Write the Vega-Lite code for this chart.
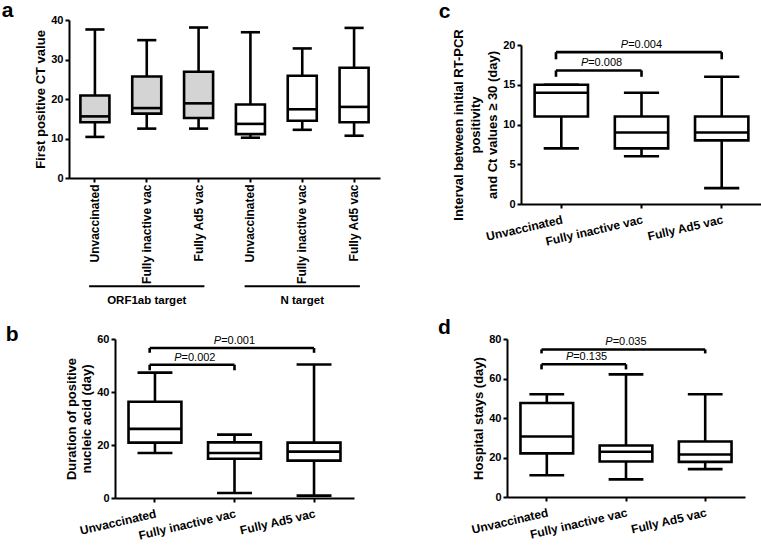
{
  "$schema": "https://vega.github.io/schema/vega-lite/v6.json",
  "padding": {"left": 1, "top": 0, "right": 0, "bottom": 0},
  "background": "white",
  "config": {
    "view": {"stroke": null},
    "font": "Liberation Sans",
    "axis": {"domainColor": "#000", "domainWidth": 2, "tickColor": "#000", "tickWidth": 2, "tickSize": 4, "labelColor": "#000", "labelFont": "Liberation Sans", "labelFontWeight": "bold", "labelFontSize": 11, "labelPadding": 2, "titleColor": "#000", "titleFont": "Liberation Sans", "titleFontWeight": "bold", "titleFontSize": 13, "titlePadding": 3, "grid": false, "labelOverlap": false},
    "axisX": {"labelFontSize": 12},
    "title": {"fontSize": 21, "fontWeight": "bold", "anchor": "start", "frame": "bounds", "baseline": "alphabetic", "color": "#000", "font": "Liberation Sans"},
    "rule": {"strokeWidth": 2.6, "color": "#000"},
    "bar": {"stroke": "#000", "strokeWidth": 2.6},
    "text": {"font": "Liberation Sans", "color": "#000"}
  },
  "datasets": {
    "boxA": [
      {"key": "ORF1ab|Unvaccinated", "target": "ORF1ab target", "min": 10.4, "q1": 14.1, "median": 15.6, "q3": 20.9, "max": 37.6},
      {"key": "ORF1ab|Fully inactive vac", "target": "ORF1ab target", "min": 12.5, "q1": 16.3, "median": 17.7, "q3": 25.7, "max": 34.9},
      {"key": "ORF1ab|Fully Ad5 vac", "target": "ORF1ab target", "min": 12.5, "q1": 15.2, "median": 18.9, "q3": 26.9, "max": 38.1},
      {"key": "N|Unvaccinated", "target": "N target", "min": 10.2, "q1": 11.1, "median": 13.7, "q3": 18.6, "max": 36.9},
      {"key": "N|Fully inactive vac", "target": "N target", "min": 12.2, "q1": 14.5, "median": 17.4, "q3": 25.9, "max": 32.8},
      {"key": "N|Fully Ad5 vac", "target": "N target", "min": 10.7, "q1": 14.1, "median": 18.0, "q3": 27.9, "max": 38.0}
    ],
    "groupsA": [
      {"target": "ORF1ab target", "start": "ORF1ab|Unvaccinated", "mid": "ORF1ab|Fully inactive vac", "end": "ORF1ab|Fully Ad5 vac"},
      {"target": "N target", "start": "N|Unvaccinated", "mid": "N|Fully inactive vac", "end": "N|Fully Ad5 vac"}
    ],
    "boxB": [
      {"group": "Unvaccinated", "min": 17.0, "q1": 20.9, "median": 26.1, "q3": 36.3, "max": 47.3},
      {"group": "Fully inactive vac", "min": 1.9, "q1": 14.8, "median": 17.0, "q3": 21.0, "max": 23.9},
      {"group": "Fully Ad5 vac", "min": 0.9, "q1": 14.1, "median": 17.5, "q3": 20.9, "max": 50.4}
    ],
    "brB": [
      {"span": "wide", "from": "Unvaccinated", "mid": "Fully inactive vac", "to": "Fully Ad5 vac", "top": 56.6, "leg": 54.8, "p": "=0.001"},
      {"span": "narrow", "from": "Unvaccinated", "mid": "Fully inactive vac", "to": "Fully inactive vac", "top": 50.3, "leg": 48.2, "p": "=0.002"}
    ],
    "boxC": [
      {"group": "Unvaccinated", "min": 7, "q1": 11, "median": 14, "q3": 15, "max": 15},
      {"group": "Fully inactive vac", "min": 6, "q1": 7, "median": 9, "q3": 11, "max": 14},
      {"group": "Fully Ad5 vac", "min": 2, "q1": 8, "median": 9, "q3": 11, "max": 16}
    ],
    "brC": [
      {"span": "wide", "from": "Unvaccinated", "mid": "Fully inactive vac", "to": "Fully Ad5 vac", "top": 19.1, "leg": 18.2, "p": "=0.004"},
      {"span": "narrow", "from": "Unvaccinated", "mid": "Fully inactive vac", "to": "Fully inactive vac", "top": 16.8, "leg": 16.0, "p": "=0.008"}
    ],
    "boxD": [
      {"group": "Unvaccinated", "min": 11.0, "q1": 22.1, "median": 30.6, "q3": 47.6, "max": 52.0},
      {"group": "Fully inactive vac", "min": 8.9, "q1": 18.0, "median": 22.9, "q3": 26.1, "max": 62.1},
      {"group": "Fully Ad5 vac", "min": 14.1, "q1": 17.8, "median": 21.5, "q3": 28.1, "max": 52.0}
    ],
    "brD": [
      {"span": "wide", "from": "Unvaccinated", "mid": "Fully inactive vac", "to": "Fully Ad5 vac", "top": 74.7, "leg": 72.7, "p": "=0.035"},
      {"span": "narrow", "from": "Unvaccinated", "mid": "Fully inactive vac", "to": "Fully inactive vac", "top": 67.2, "leg": 64.6, "p": "=0.135"}
    ]
  },
  "spacing": 319,
  "bounds": "flush",
  "vconcat": [
    {
      "spacing": 141,
      "bounds": "flush",
      "hconcat": [
        {
          "title": {"text": "a", "offset": -7, "dx": -33},
          "width": 311, "height": 158,
          "layer": [
            {"data": {"name": "boxA"}, "mark": "rule",
             "encoding": {
               "x": {"field": "key", "type": "nominal", "title": null, "scale": {"domain": ["ORF1ab|Unvaccinated", "ORF1ab|Fully inactive vac", "ORF1ab|Fully Ad5 vac", "N|Unvaccinated", "N|Fully inactive vac", "N|Fully Ad5 vac"], "paddingInner": 0.44, "paddingOuter": 0.22}, "axis": {"title": null, "labelAngle": -90, "labelFontSize": 12, "labelExpr": "split(datum.label, '|')[1]"}},
               "y": {"field": "min", "type": "quantitative", "scale": {"domain": [0, 40], "nice": false}, "axis": {"title": "First positive CT value", "values": [0, 10, 20, 30, 40]}},
               "y2": {"field": "q1"}}},
            {"data": {"name": "boxA"}, "mark": "rule",
             "encoding": {"x": {"field": "key", "type": "nominal", "title": null}, "y": {"field": "q3", "type": "quantitative", "scale": {"domain": [0, 40], "nice": false}, "axis": {"title": "First positive CT value", "values": [0, 10, 20, 30, 40]}}, "y2": {"field": "max"}}},
            {"data": {"name": "boxA"}, "mark": "rule",
             "encoding": {"x": {"field": "key", "type": "nominal", "bandPosition": 0.17, "title": null}, "x2": {"field": "key", "bandPosition": 0.83}, "y": {"field": "min", "type": "quantitative", "scale": {"domain": [0, 40], "nice": false}, "axis": {"title": "First positive CT value", "values": [0, 10, 20, 30, 40]}}}},
            {"data": {"name": "boxA"}, "mark": "rule",
             "encoding": {"x": {"field": "key", "type": "nominal", "bandPosition": 0.17, "title": null}, "x2": {"field": "key", "bandPosition": 0.83}, "y": {"field": "max", "type": "quantitative", "scale": {"domain": [0, 40], "nice": false}, "axis": {"title": "First positive CT value", "values": [0, 10, 20, 30, 40]}}}},
            {"data": {"name": "boxA"}, "mark": "bar",
             "encoding": {"x": {"field": "key", "type": "nominal", "title": null}, "y": {"field": "q1", "type": "quantitative", "scale": {"domain": [0, 40], "nice": false}, "axis": {"title": "First positive CT value", "values": [0, 10, 20, 30, 40]}}, "y2": {"field": "q3"},
               "fill": {"field": "target", "type": "nominal", "scale": {"domain": ["ORF1ab target", "N target"], "range": ["#d4d4d4", "#ffffff"]}, "legend": null}}},
            {"data": {"name": "boxA"}, "mark": "rule",
             "encoding": {"x": {"field": "key", "type": "nominal", "bandPosition": 0, "title": null}, "x2": {"field": "key", "bandPosition": 1}, "y": {"field": "median", "type": "quantitative", "scale": {"domain": [0, 40], "nice": false}, "axis": {"title": "First positive CT value", "values": [0, 10, 20, 30, 40]}}}},
            {"data": {"name": "groupsA"}, "mark": {"type": "rule", "strokeWidth": 2},
             "encoding": {"x": {"field": "start", "type": "nominal", "bandPosition": 0.3, "title": null}, "x2": {"field": "end", "bandPosition": 0.7}, "y": {"datum": -27.4, "type": "quantitative", "scale": {"domain": [0, 40], "nice": false}, "axis": {"title": "First positive CT value", "values": [0, 10, 20, 30, 40]}}}},
            {"data": {"name": "groupsA"}, "mark": {"type": "text", "fontWeight": "bold", "fontSize": 11.5, "baseline": "alphabetic", "align": "center"},
             "encoding": {"x": {"field": "mid", "type": "nominal", "title": null}, "y": {"datum": -32, "type": "quantitative", "scale": {"domain": [0, 40], "nice": false}, "axis": {"title": "First positive CT value", "values": [0, 10, 20, 30, 40]}}, "text": {"field": "target"}}}
          ]
        },
        {
          "spacing": 24,
          "bounds": "flush",
          "vconcat": [
            {"width": 1, "height": 1, "data": {"values": []}, "mark": "point"},
            {
              "title": {"text": "c", "offset": 6.3, "dx": -14},
              "width": 241, "height": 159,
              "layer": [
                {"data": {"name": "boxC"}, "mark": "rule",
                 "encoding": {
                   "x": {"field": "group", "type": "nominal", "title": null, "scale": {"domain": ["Unvaccinated", "Fully inactive vac", "Fully Ad5 vac"], "paddingInner": 0.335, "paddingOuter": 0.17}, "axis": {"title": null, "labelAngle": -13, "labelPadding": 6}},
                   "y": {"field": "min", "type": "quantitative", "scale": {"domain": [0, 20], "nice": false}, "axis": {"title": ["Interval between initial RT-PCR", "positivity", "and Ct values \u2265 30 (day)"], "titleLineHeight": 17, "values": [0, 5, 10, 15, 20]}},
                   "y2": {"field": "q1"}}},
                {"data": {"name": "boxC"}, "mark": "rule",
                 "encoding": {"x": {"field": "group", "type": "nominal", "title": null}, "y": {"field": "q3", "type": "quantitative", "scale": {"domain": [0, 20], "nice": false}, "axis": {"title": ["Interval between initial RT-PCR", "positivity", "and Ct values \u2265 30 (day)"], "titleLineHeight": 17, "values": [0, 5, 10, 15, 20]}}, "y2": {"field": "max"}}},
                {"data": {"name": "boxC"}, "mark": "rule",
                 "encoding": {"x": {"field": "group", "type": "nominal", "bandPosition": 0.17, "title": null}, "x2": {"field": "group", "bandPosition": 0.83}, "y": {"field": "min", "type": "quantitative", "scale": {"domain": [0, 20], "nice": false}, "axis": {"title": ["Interval between initial RT-PCR", "positivity", "and Ct values \u2265 30 (day)"], "titleLineHeight": 17, "values": [0, 5, 10, 15, 20]}}}},
                {"data": {"name": "boxC"}, "mark": "rule",
                 "encoding": {"x": {"field": "group", "type": "nominal", "bandPosition": 0.17, "title": null}, "x2": {"field": "group", "bandPosition": 0.83}, "y": {"field": "max", "type": "quantitative", "scale": {"domain": [0, 20], "nice": false}, "axis": {"title": ["Interval between initial RT-PCR", "positivity", "and Ct values \u2265 30 (day)"], "titleLineHeight": 17, "values": [0, 5, 10, 15, 20]}}}},
                {"data": {"name": "boxC"}, "mark": {"type": "bar", "fill": "#ffffff"},
                 "encoding": {"x": {"field": "group", "type": "nominal", "title": null}, "y": {"field": "q1", "type": "quantitative", "scale": {"domain": [0, 20], "nice": false}, "axis": {"title": ["Interval between initial RT-PCR", "positivity", "and Ct values \u2265 30 (day)"], "titleLineHeight": 17, "values": [0, 5, 10, 15, 20]}}, "y2": {"field": "q3"}}},
                {"data": {"name": "boxC"}, "mark": "rule",
                 "encoding": {"x": {"field": "group", "type": "nominal", "bandPosition": 0, "title": null}, "x2": {"field": "group", "bandPosition": 1}, "y": {"field": "median", "type": "quantitative", "scale": {"domain": [0, 20], "nice": false}, "axis": {"title": ["Interval between initial RT-PCR", "positivity", "and Ct values \u2265 30 (day)"], "titleLineHeight": 17, "values": [0, 5, 10, 15, 20]}}}},
                {"data": {"name": "brC"}, "mark": "rule",
                 "encoding": {"x": {"field": "from", "type": "nominal", "bandPosition": 0.4, "title": null}, "x2": {"field": "to", "bandPosition": 0.5}, "y": {"field": "top", "type": "quantitative", "scale": {"domain": [0, 20], "nice": false}, "axis": {"title": ["Interval between initial RT-PCR", "positivity", "and Ct values \u2265 30 (day)"], "titleLineHeight": 17, "values": [0, 5, 10, 15, 20]}}}},
                {"data": {"name": "brC"}, "mark": "rule",
                 "encoding": {"x": {"field": "from", "type": "nominal", "bandPosition": 0.4, "title": null}, "y": {"field": "leg", "type": "quantitative", "scale": {"domain": [0, 20], "nice": false}, "axis": {"title": ["Interval between initial RT-PCR", "positivity", "and Ct values \u2265 30 (day)"], "titleLineHeight": 17, "values": [0, 5, 10, 15, 20]}}, "y2": {"field": "top"}}},
                {"data": {"name": "brC"}, "mark": "rule",
                 "encoding": {"x": {"field": "to", "type": "nominal", "bandPosition": 0.5, "title": null}, "y": {"field": "leg", "type": "quantitative", "scale": {"domain": [0, 20], "nice": false}, "axis": {"title": ["Interval between initial RT-PCR", "positivity", "and Ct values \u2265 30 (day)"], "titleLineHeight": 17, "values": [0, 5, 10, 15, 20]}}, "y2": {"field": "top"}}},
                {"data": {"name": "brC"}, "transform": [{"filter": "datum.span == 'wide'"}], "mark": {"type": "text", "fontSize": 11, "align": "center", "baseline": "alphabetic", "dy": -4, "dx": 3.6},
                 "encoding": {"x": {"field": "mid", "type": "nominal", "title": null}, "y": {"field": "top", "type": "quantitative", "scale": {"domain": [0, 20], "nice": false}, "axis": {"title": ["Interval between initial RT-PCR", "positivity", "and Ct values \u2265 30 (day)"], "titleLineHeight": 17, "values": [0, 5, 10, 15, 20]}}, "text": {"field": "p"}}},
                {"data": {"name": "brC"}, "transform": [{"filter": "datum.span == 'wide'"}], "mark": {"type": "text", "fontSize": 11, "fontStyle": "italic", "align": "right", "baseline": "alphabetic", "dy": -4, "dx": -13.3},
                 "encoding": {"x": {"field": "mid", "type": "nominal", "title": null}, "y": {"field": "top", "type": "quantitative", "scale": {"domain": [0, 20], "nice": false}, "axis": {"title": ["Interval between initial RT-PCR", "positivity", "and Ct values \u2265 30 (day)"], "titleLineHeight": 17, "values": [0, 5, 10, 15, 20]}}, "text": {"value": "P"}}},
                {"data": {"name": "brC"}, "transform": [{"filter": "datum.span == 'narrow'"}], "mark": {"type": "text", "fontSize": 11, "align": "center", "baseline": "alphabetic", "dy": -4, "dx": 3.6},
                 "encoding": {"x": {"field": "from", "type": "nominal", "bandPosition": 1.255, "title": null}, "y": {"field": "top", "type": "quantitative", "scale": {"domain": [0, 20], "nice": false}, "axis": {"title": ["Interval between initial RT-PCR", "positivity", "and Ct values \u2265 30 (day)"], "titleLineHeight": 17, "values": [0, 5, 10, 15, 20]}}, "text": {"field": "p"}}},
                {"data": {"name": "brC"}, "transform": [{"filter": "datum.span == 'narrow'"}], "mark": {"type": "text", "fontSize": 11, "fontStyle": "italic", "align": "right", "baseline": "alphabetic", "dy": -4, "dx": -13.3},
                 "encoding": {"x": {"field": "from", "type": "nominal", "bandPosition": 1.255, "title": null}, "y": {"field": "top", "type": "quantitative", "scale": {"domain": [0, 20], "nice": false}, "axis": {"title": ["Interval between initial RT-PCR", "positivity", "and Ct values \u2265 30 (day)"], "titleLineHeight": 17, "values": [0, 5, 10, 15, 20]}}, "text": {"value": "P"}}}
              ]
            }
          ]
        }
      ]
    },
    {
      "spacing": 438,
      "bounds": "flush",
      "hconcat": [
        {
          "spacing": 45,
          "bounds": "flush",
          "hconcat": [
            {"width": 1, "height": 1, "data": {"values": []}, "mark": "point"},
            {
              "title": {"text": "b", "offset": -11.5, "dx": -60},
              "width": 239, "height": 159,
              "layer": [
                {"data": {"name": "boxB"}, "mark": "rule",
                 "encoding": {
                   "x": {"field": "group", "type": "nominal", "title": null, "scale": {"domain": ["Unvaccinated", "Fully inactive vac", "Fully Ad5 vac"], "paddingInner": 0.335, "paddingOuter": 0.17}, "axis": {"title": null, "labelAngle": -13, "labelPadding": 6}},
                   "y": {"field": "min", "type": "quantitative", "scale": {"domain": [0, 60], "nice": false}, "axis": {"title": ["Duration of positive", "nucleic acid (day)"], "titleLineHeight": 15, "values": [0, 20, 40, 60]}},
                   "y2": {"field": "q1"}}},
                {"data": {"name": "boxB"}, "mark": "rule",
                 "encoding": {"x": {"field": "group", "type": "nominal", "title": null}, "y": {"field": "q3", "type": "quantitative", "scale": {"domain": [0, 60], "nice": false}, "axis": {"title": ["Duration of positive", "nucleic acid (day)"], "titleLineHeight": 15, "values": [0, 20, 40, 60]}}, "y2": {"field": "max"}}},
                {"data": {"name": "boxB"}, "mark": "rule",
                 "encoding": {"x": {"field": "group", "type": "nominal", "bandPosition": 0.17, "title": null}, "x2": {"field": "group", "bandPosition": 0.83}, "y": {"field": "min", "type": "quantitative", "scale": {"domain": [0, 60], "nice": false}, "axis": {"title": ["Duration of positive", "nucleic acid (day)"], "titleLineHeight": 15, "values": [0, 20, 40, 60]}}}},
                {"data": {"name": "boxB"}, "mark": "rule",
                 "encoding": {"x": {"field": "group", "type": "nominal", "bandPosition": 0.17, "title": null}, "x2": {"field": "group", "bandPosition": 0.83}, "y": {"field": "max", "type": "quantitative", "scale": {"domain": [0, 60], "nice": false}, "axis": {"title": ["Duration of positive", "nucleic acid (day)"], "titleLineHeight": 15, "values": [0, 20, 40, 60]}}}},
                {"data": {"name": "boxB"}, "mark": {"type": "bar", "fill": "#ffffff"},
                 "encoding": {"x": {"field": "group", "type": "nominal", "title": null}, "y": {"field": "q1", "type": "quantitative", "scale": {"domain": [0, 60], "nice": false}, "axis": {"title": ["Duration of positive", "nucleic acid (day)"], "titleLineHeight": 15, "values": [0, 20, 40, 60]}}, "y2": {"field": "q3"}}},
                {"data": {"name": "boxB"}, "mark": "rule",
                 "encoding": {"x": {"field": "group", "type": "nominal", "bandPosition": 0, "title": null}, "x2": {"field": "group", "bandPosition": 1}, "y": {"field": "median", "type": "quantitative", "scale": {"domain": [0, 60], "nice": false}, "axis": {"title": ["Duration of positive", "nucleic acid (day)"], "titleLineHeight": 15, "values": [0, 20, 40, 60]}}}},
                {"data": {"name": "brB"}, "mark": "rule",
                 "encoding": {"x": {"field": "from", "type": "nominal", "bandPosition": 0.4, "title": null}, "x2": {"field": "to", "bandPosition": 0.5}, "y": {"field": "top", "type": "quantitative", "scale": {"domain": [0, 60], "nice": false}, "axis": {"title": ["Duration of positive", "nucleic acid (day)"], "titleLineHeight": 15, "values": [0, 20, 40, 60]}}}},
                {"data": {"name": "brB"}, "mark": "rule",
                 "encoding": {"x": {"field": "from", "type": "nominal", "bandPosition": 0.4, "title": null}, "y": {"field": "leg", "type": "quantitative", "scale": {"domain": [0, 60], "nice": false}, "axis": {"title": ["Duration of positive", "nucleic acid (day)"], "titleLineHeight": 15, "values": [0, 20, 40, 60]}}, "y2": {"field": "top"}}},
                {"data": {"name": "brB"}, "mark": "rule",
                 "encoding": {"x": {"field": "to", "type": "nominal", "bandPosition": 0.5, "title": null}, "y": {"field": "leg", "type": "quantitative", "scale": {"domain": [0, 60], "nice": false}, "axis": {"title": ["Duration of positive", "nucleic acid (day)"], "titleLineHeight": 15, "values": [0, 20, 40, 60]}}, "y2": {"field": "top"}}},
                {"data": {"name": "brB"}, "transform": [{"filter": "datum.span == 'wide'"}], "mark": {"type": "text", "fontSize": 11, "align": "center", "baseline": "alphabetic", "dy": -4, "dx": 3.6},
                 "encoding": {"x": {"field": "mid", "type": "nominal", "title": null}, "y": {"field": "top", "type": "quantitative", "scale": {"domain": [0, 60], "nice": false}, "axis": {"title": ["Duration of positive", "nucleic acid (day)"], "titleLineHeight": 15, "values": [0, 20, 40, 60]}}, "text": {"field": "p"}}},
                {"data": {"name": "brB"}, "transform": [{"filter": "datum.span == 'wide'"}], "mark": {"type": "text", "fontSize": 11, "fontStyle": "italic", "align": "right", "baseline": "alphabetic", "dy": -4, "dx": -13.3},
                 "encoding": {"x": {"field": "mid", "type": "nominal", "title": null}, "y": {"field": "top", "type": "quantitative", "scale": {"domain": [0, 60], "nice": false}, "axis": {"title": ["Duration of positive", "nucleic acid (day)"], "titleLineHeight": 15, "values": [0, 20, 40, 60]}}, "text": {"value": "P"}}},
                {"data": {"name": "brB"}, "transform": [{"filter": "datum.span == 'narrow'"}], "mark": {"type": "text", "fontSize": 11, "align": "center", "baseline": "alphabetic", "dy": -4, "dx": 3.6},
                 "encoding": {"x": {"field": "from", "type": "nominal", "bandPosition": 1.255, "title": null}, "y": {"field": "top", "type": "quantitative", "scale": {"domain": [0, 60], "nice": false}, "axis": {"title": ["Duration of positive", "nucleic acid (day)"], "titleLineHeight": 15, "values": [0, 20, 40, 60]}}, "text": {"field": "p"}}},
                {"data": {"name": "brB"}, "transform": [{"filter": "datum.span == 'narrow'"}], "mark": {"type": "text", "fontSize": 11, "fontStyle": "italic", "align": "right", "baseline": "alphabetic", "dy": -4, "dx": -13.3},
                 "encoding": {"x": {"field": "from", "type": "nominal", "bandPosition": 1.255, "title": null}, "y": {"field": "top", "type": "quantitative", "scale": {"domain": [0, 60], "nice": false}, "axis": {"title": ["Duration of positive", "nucleic acid (day)"], "titleLineHeight": 15, "values": [0, 20, 40, 60]}}, "text": {"value": "P"}}}
              ]
            }
          ]
        },
        {
          "title": {"text": "d", "offset": -4.9, "dx": -32},
          "width": 238, "height": 158,
          "layer": [
            {"data": {"name": "boxD"}, "mark": "rule",
             "encoding": {
               "x": {"field": "group", "type": "nominal", "title": null, "scale": {"domain": ["Unvaccinated", "Fully inactive vac", "Fully Ad5 vac"], "paddingInner": 0.335, "paddingOuter": 0.17}, "axis": {"title": null, "labelAngle": -13, "labelPadding": 6}},
               "y": {"field": "min", "type": "quantitative", "scale": {"domain": [0, 80], "nice": false}, "axis": {"title": "Hospital  stays (day)", "values": [0, 20, 40, 60, 80]}},
               "y2": {"field": "q1"}}},
            {"data": {"name": "boxD"}, "mark": "rule",
             "encoding": {"x": {"field": "group", "type": "nominal", "title": null}, "y": {"field": "q3", "type": "quantitative", "scale": {"domain": [0, 80], "nice": false}, "axis": {"title": "Hospital  stays (day)", "values": [0, 20, 40, 60, 80]}}, "y2": {"field": "max"}}},
            {"data": {"name": "boxD"}, "mark": "rule",
             "encoding": {"x": {"field": "group", "type": "nominal", "bandPosition": 0.17, "title": null}, "x2": {"field": "group", "bandPosition": 0.83}, "y": {"field": "min", "type": "quantitative", "scale": {"domain": [0, 80], "nice": false}, "axis": {"title": "Hospital  stays (day)", "values": [0, 20, 40, 60, 80]}}}},
            {"data": {"name": "boxD"}, "mark": "rule",
             "encoding": {"x": {"field": "group", "type": "nominal", "bandPosition": 0.17, "title": null}, "x2": {"field": "group", "bandPosition": 0.83}, "y": {"field": "max", "type": "quantitative", "scale": {"domain": [0, 80], "nice": false}, "axis": {"title": "Hospital  stays (day)", "values": [0, 20, 40, 60, 80]}}}},
            {"data": {"name": "boxD"}, "mark": {"type": "bar", "fill": "#ffffff"},
             "encoding": {"x": {"field": "group", "type": "nominal", "title": null}, "y": {"field": "q1", "type": "quantitative", "scale": {"domain": [0, 80], "nice": false}, "axis": {"title": "Hospital  stays (day)", "values": [0, 20, 40, 60, 80]}}, "y2": {"field": "q3"}}},
            {"data": {"name": "boxD"}, "mark": "rule",
             "encoding": {"x": {"field": "group", "type": "nominal", "bandPosition": 0, "title": null}, "x2": {"field": "group", "bandPosition": 1}, "y": {"field": "median", "type": "quantitative", "scale": {"domain": [0, 80], "nice": false}, "axis": {"title": "Hospital  stays (day)", "values": [0, 20, 40, 60, 80]}}}},
            {"data": {"name": "brD"}, "mark": "rule",
             "encoding": {"x": {"field": "from", "type": "nominal", "bandPosition": 0.4, "title": null}, "x2": {"field": "to", "bandPosition": 0.5}, "y": {"field": "top", "type": "quantitative", "scale": {"domain": [0, 80], "nice": false}, "axis": {"title": "Hospital  stays (day)", "values": [0, 20, 40, 60, 80]}}}},
            {"data": {"name": "brD"}, "mark": "rule",
             "encoding": {"x": {"field": "from", "type": "nominal", "bandPosition": 0.4, "title": null}, "y": {"field": "leg", "type": "quantitative", "scale": {"domain": [0, 80], "nice": false}, "axis": {"title": "Hospital  stays (day)", "values": [0, 20, 40, 60, 80]}}, "y2": {"field": "top"}}},
            {"data": {"name": "brD"}, "mark": "rule",
             "encoding": {"x": {"field": "to", "type": "nominal", "bandPosition": 0.5, "title": null}, "y": {"field": "leg", "type": "quantitative", "scale": {"domain": [0, 80], "nice": false}, "axis": {"title": "Hospital  stays (day)", "values": [0, 20, 40, 60, 80]}}, "y2": {"field": "top"}}},
            {"data": {"name": "brD"}, "transform": [{"filter": "datum.span == 'wide'"}], "mark": {"type": "text", "fontSize": 11, "align": "center", "baseline": "alphabetic", "dy": -4, "dx": 3.6},
             "encoding": {"x": {"field": "mid", "type": "nominal", "title": null}, "y": {"field": "top", "type": "quantitative", "scale": {"domain": [0, 80], "nice": false}, "axis": {"title": "Hospital  stays (day)", "values": [0, 20, 40, 60, 80]}}, "text": {"field": "p"}}},
            {"data": {"name": "brD"}, "transform": [{"filter": "datum.span == 'wide'"}], "mark": {"type": "text", "fontSize": 11, "fontStyle": "italic", "align": "right", "baseline": "alphabetic", "dy": -4, "dx": -13.3},
             "encoding": {"x": {"field": "mid", "type": "nominal", "title": null}, "y": {"field": "top", "type": "quantitative", "scale": {"domain": [0, 80], "nice": false}, "axis": {"title": "Hospital  stays (day)", "values": [0, 20, 40, 60, 80]}}, "text": {"value": "P"}}},
            {"data": {"name": "brD"}, "transform": [{"filter": "datum.span == 'narrow'"}], "mark": {"type": "text", "fontSize": 11, "align": "center", "baseline": "alphabetic", "dy": -4, "dx": 3.6},
             "encoding": {"x": {"field": "from", "type": "nominal", "bandPosition": 1.255, "title": null}, "y": {"field": "top", "type": "quantitative", "scale": {"domain": [0, 80], "nice": false}, "axis": {"title": "Hospital  stays (day)", "values": [0, 20, 40, 60, 80]}}, "text": {"field": "p"}}},
            {"data": {"name": "brD"}, "transform": [{"filter": "datum.span == 'narrow'"}], "mark": {"type": "text", "fontSize": 11, "fontStyle": "italic", "align": "right", "baseline": "alphabetic", "dy": -4, "dx": -13.3},
             "encoding": {"x": {"field": "from", "type": "nominal", "bandPosition": 1.255, "title": null}, "y": {"field": "top", "type": "quantitative", "scale": {"domain": [0, 80], "nice": false}, "axis": {"title": "Hospital  stays (day)", "values": [0, 20, 40, 60, 80]}}, "text": {"value": "P"}}}
          ]
        }
      ]
    }
  ]
}
